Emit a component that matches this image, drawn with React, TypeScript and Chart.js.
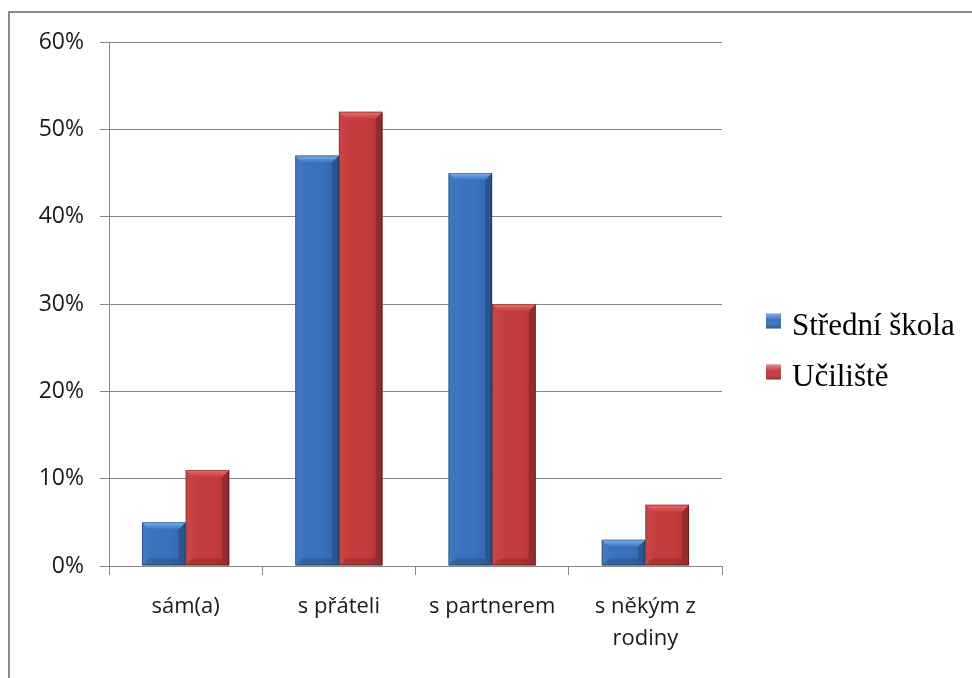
import React, { useEffect, useRef } from "react";
import { Chart, registerables } from "chart.js";

Chart.register(...registerables);

const categories: (string | string[])[] = ["sám(a)", "s přáteli", "s partnerem", ["s někým z", "rodiny"]];
const seriesNames = ["Střední škola", "Učiliště"];
const stredniSkola = [5, 47, 45, 3];
const uciliste = [11, 52, 30, 7];
const yTicks = [0, 10, 20, 30, 40, 50, 60];

const BLUE = "#3a72bf";
const BLUE_LIGHT = "#7db4f4";
const RED = "#c63c3d";
const RED_LIGHT = "#ee7070";

const bevelPlugin = {
  id: "bevel",
  afterDatasetsDraw(chart: any) {
    const ctx = chart.ctx;
    chart.data.datasets.forEach((ds: any, di: number) => {
      const meta = chart.getDatasetMeta(di);
      const light = di === 0 ? BLUE_LIGHT : RED_LIGHT;
      meta.data.forEach((el: any) => {
        const { x, y, base, width } = el.getProps(["x", "y", "base", "width"], true);
        const l = x - width / 2;
        const r = x + width / 2;
        const t = Math.min(y, base);
        const bt = Math.max(y, base);
        const b = Math.min(7, (bt - t) / 2);
        ctx.save();
        // body shading
        const hg = ctx.createLinearGradient(l, 0, r, 0);
        hg.addColorStop(0, "rgba(255,255,255,0.06)");
        hg.addColorStop(0.6, "rgba(0,0,0,0)");
        hg.addColorStop(1, "rgba(0,0,0,0.12)");
        ctx.fillStyle = hg;
        ctx.fillRect(l, t, width, bt - t);
        // right side
        ctx.fillStyle = "rgba(0,0,0,0.18)";
        ctx.beginPath();
        ctx.moveTo(r, t); ctx.lineTo(r - b, t + b); ctx.lineTo(r - b, bt - b); ctx.lineTo(r, bt); ctx.closePath(); ctx.fill();
        // bottom
        ctx.fillStyle = "rgba(0,0,0,0.15)";
        ctx.beginPath();
        ctx.moveTo(l, bt); ctx.lineTo(l + b, bt - b); ctx.lineTo(r - b, bt - b); ctx.lineTo(r, bt); ctx.closePath(); ctx.fill();
        // top bevel
        const g = ctx.createLinearGradient(0, t, 0, t + b);
        g.addColorStop(0, light);
        g.addColorStop(1, di === 0 ? BLUE : RED);
        ctx.fillStyle = g;
        ctx.beginPath();
        ctx.moveTo(l, t); ctx.lineTo(r, t); ctx.lineTo(r - b, t + b); ctx.lineTo(l + b, t + b); ctx.closePath(); ctx.fill();
        // outline
        ctx.strokeStyle = "rgba(0,0,0,0.3)";
        ctx.lineWidth = 1;
        ctx.strokeRect(l + 0.5, t + 0.5, width - 1, bt - t - 1);
        ctx.restore();
      });
    });
  },
};

const legendPlugin = {
  id: "customLegend",
  afterDraw(chart: any) {
    const ctx = chart.ctx;
    const area = chart.chartArea;
    const x0 = area.right + 44;
    const baselines = [335, 386];
    ctx.save();
    ctx.font = "31px 'Liberation Serif', 'Times New Roman', serif";
    ctx.textBaseline = "alphabetic";
    chart.data.datasets.forEach((ds: any, i: number) => {
      const yb = baselines[i];
      const s = 15;
      const top = yb - 12 - s / 2 - 2;
      ctx.fillStyle = ds.backgroundColor;
      ctx.fillRect(x0, top, s, s);
      const g = ctx.createLinearGradient(0, top, 0, top + s);
      g.addColorStop(0, "rgba(255,255,255,0.4)");
      g.addColorStop(0.45, "rgba(255,255,255,0)");
      g.addColorStop(1, "rgba(0,0,0,0.25)");
      ctx.fillStyle = g;
      ctx.fillRect(x0, top, s, s);
      ctx.fillStyle = "#000";
      ctx.fillText(ds.label, x0 + s + 11, yb);
    });
    ctx.restore();
  },
};

export default function App() {
  const ref = useRef<HTMLCanvasElement>(null);
  useEffect(() => {
    if (!ref.current) return;
    const chart = new Chart(ref.current, {
      type: "bar",
      data: {
        labels: categories,
        datasets: [
          { label: seriesNames[0], data: stredniSkola, backgroundColor: BLUE, borderWidth: 0 },
          { label: seriesNames[1], data: uciliste, backgroundColor: RED, borderWidth: 0 },
        ],
      },
      options: {
        animation: false,
        responsive: false,
        maintainAspectRatio: false,
        layout: { padding: { top: 42, left: 0, right: 250, bottom: 0 } },
        plugins: { legend: { display: false }, tooltip: { enabled: false } },
        datasets: { bar: { categoryPercentage: 0.57, barPercentage: 1.0 } },
        scales: {
          x: {
            afterFit: (s: any) => { s.height = 112; },
            grid: { display: true, drawOnChartArea: false, drawTicks: true, tickLength: 9, color: "#878787", offset: true },
            border: { display: true, color: "#878787" },
            ticks: { color: "#1a1a1a", font: { family: "'Open Sans', sans-serif", size: 22, lineHeight: 1.45 }, padding: 16, maxRotation: 0, autoSkip: false },
          },
          y: {
            min: 0,
            max: 60,
            afterFit: (s: any) => { s.width = 109; },
            afterBuildTicks: (s: any) => { s.ticks = yTicks.map((v) => ({ value: v })); },
            grid: { color: "#878787", tickLength: 9, drawTicks: true },
            border: { display: true, color: "#878787" },
            ticks: { color: "#1a1a1a", font: { family: "'Open Sans', sans-serif", size: 23 }, padding: 16, callback: (v: any) => `${v}%` },
          },
        },
      },
      plugins: [bevelPlugin, legendPlugin],
    });
    return () => chart.destroy();
  }, []);
  return (
    <div style={{ position: "absolute", left: 0, top: 0, width: 972, height: 678, background: "#fff" }}>
      <div style={{ position: "absolute", left: 8, top: 11, width: 964, height: 667, borderTop: "2px solid #8a8a8a", borderLeft: "2px solid #8a8a8a", boxSizing: "border-box" }} />
      <canvas ref={ref} width={972} height={678} style={{ position: "absolute", left: 0, top: 0 }} />
    </div>
  );
}
